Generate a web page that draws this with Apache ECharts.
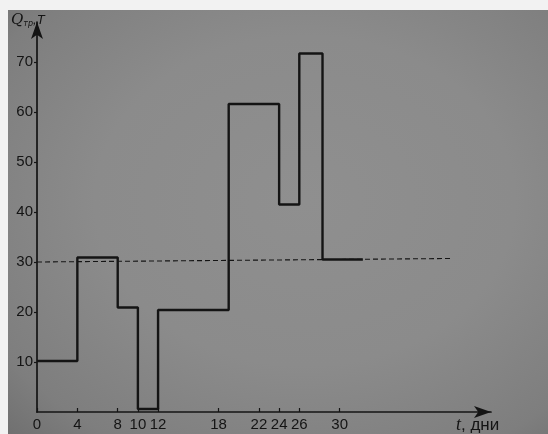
<!DOCTYPE html>
<html>
<head>
<meta charset="utf-8">
<script src="https://cdn.jsdelivr.net/npm/echarts@6/dist/echarts.min.js"></script>
<style>
html,body{margin:0;padding:0;}
body{width:548px;height:434px;background:#f2f2f2;position:relative;overflow:hidden;}
#bg{position:absolute;left:8px;top:10px;right:0;bottom:0;background:radial-gradient(ellipse at 55% 45%, #8f8f8f 0%, #8b8b8b 50%, #7e7e7e 85%, #707070 100%);}
#c{position:absolute;left:0;top:0;width:548px;height:434px;}
</style>
</head>
<body>
<div id="bg"></div>
<div id="c"></div>
<script>
// step edges (days) and supply levels between consecutive edges
const edges = [0, 4, 8, 10, 12, 19, 24, 26, 28.3, 32.3];
const levels = [10.2, 30.9, 20.9, 0.6, 20.4, 61.6, 41.5, 71.7, 30.5];
// average (dashed) line
const avgX = [0, 41];
const avgY = [30, 30.7];
// tick labels
const xTicks = [0, 4, 8, 10, 12, 18, 22, 24, 26, 30];
const yTicks = [10, 20, 30, 40, 50, 60, 70];

const stepData = edges.map((e, i) => [e, levels[Math.min(i, levels.length - 1)]]);
const avgData = avgX.map((x, i) => [x, avgY[i]]);

const ink = '#141414';
const chart = echarts.init(document.getElementById('c'));
chart.setOption({
  backgroundColor: 'transparent',
  animation: false,
  grid: {left: 37, top: 22, width: 454, height: 390, containLabel: false},
  xAxis: {
    type: 'value', min: 0, max: 45,
    splitLine: {show: false},
    axisLine: {lineStyle: {color: ink, width: 1.7}, symbol: ['none', 'arrow'], symbolSize: [9, 17]},
    axisTick: {show: true, customValues: xTicks, length: 4, inside: true, lineStyle: {color: ink, width: 1.2}},
    axisLabel: {customValues: xTicks, color: ink, fontSize: 15, fontFamily: 'Liberation Sans', margin: 5}
  },
  yAxis: {
    type: 'value', min: 0, max: 78,
    splitLine: {show: false},
    axisLine: {lineStyle: {color: ink, width: 1.7}, symbol: ['none', 'arrow'], symbolSize: [9, 17]},
    axisTick: {show: true, customValues: yTicks, length: 3, lineStyle: {color: ink, width: 1.2}},
    axisLabel: {customValues: yTicks, color: ink, fontSize: 15, fontFamily: 'Liberation Sans', margin: 4}
  },
  series: [
    {
      type: 'line', data: avgData, symbol: 'none', silent: true,
      lineStyle: {color: ink, width: 1.1, type: [5, 3]}
    },
    {
      type: 'line', step: 'end', data: stepData, symbol: 'none', silent: true,
      lineStyle: {color: ink, width: 2.4}
    }
  ],
  graphic: [
    {
      type: 'text', left: 11, top: 13,
      style: {
        rich: {
          q: {fontSize: 15, fontStyle: 'italic', fontFamily: 'DejaVu Serif', fill: ink},
          s: {fontSize: 8, fontStyle: 'italic', fontFamily: 'DejaVu Sans', fill: ink, padding: [7, 0, 0, 0]},
          t: {fontSize: 13, fontStyle: 'italic', fontFamily: 'Liberation Sans', fill: ink}
        },
        text: '{q|Q}{s|тр}{t|,T}'
      }
    },
    {
      type: 'text', left: 456, top: 416,
      style: {
        rich: {
          a: {fontSize: 18, fontStyle: 'italic', fontFamily: 'Liberation Serif', fill: ink},
          b: {fontSize: 17, fontFamily: 'Liberation Sans', fill: ink}
        },
        text: '{a|t}{b|, дни}'
      }
    }
  ]
});
</script>
</body>
</html>
